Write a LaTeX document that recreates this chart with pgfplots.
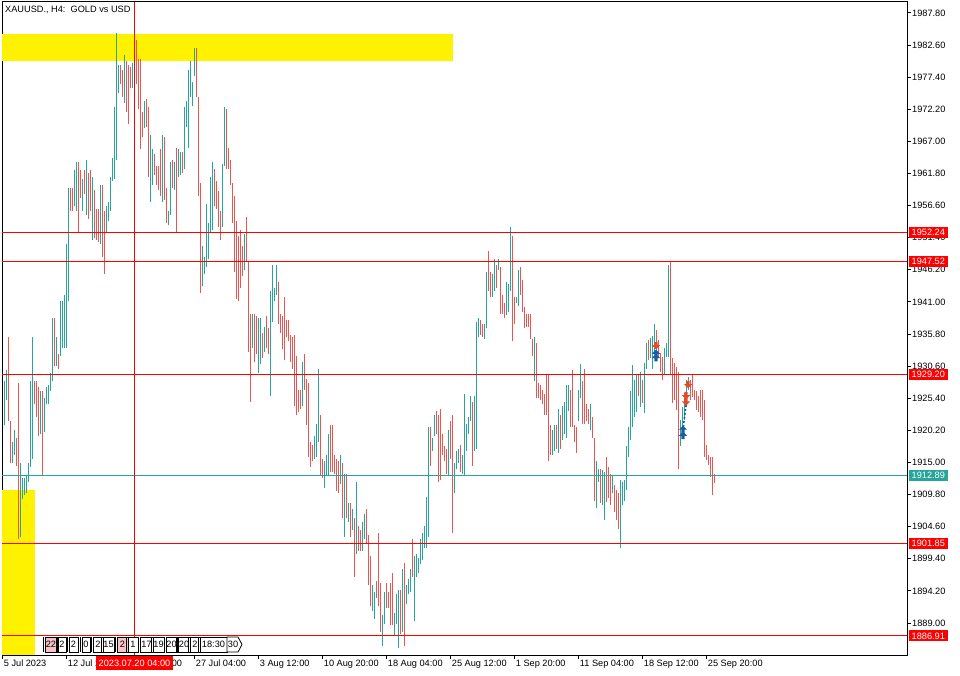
\documentclass[border=0pt]{standalone}
\usepackage{pgfplots}
\pgfplotsset{compat=1.18}
\usepackage{pgfplotstable}
\usepackage{fontspec}
\setmainfont{Liberation Sans}

\definecolor{upc}{RGB}{38,166,154}
\definecolor{dnc}{RGB}{239,83,80}
\definecolor{mtred}{RGB}{255,0,0}
\definecolor{arrred}{RGB}{232,72,40}
\definecolor{arrblue}{RGB}{24,92,170}
\definecolor{evpink}{RGB}{246,196,200}

\newcommand{\mtfont}{\fontsize{9.2pt}{10pt}\selectfont}

% buy / sell arrows
\pgfdeclareplotmark{arrup}{%
  \pgfpathmoveto{\pgfqpoint{0pt}{4.2pt}}
  \pgfpathlineto{\pgfqpoint{4.2pt}{0pt}}
  \pgfpathlineto{\pgfqpoint{1.6pt}{0pt}}
  \pgfpathlineto{\pgfqpoint{1.6pt}{-3.2pt}}
  \pgfpathlineto{\pgfqpoint{-1.6pt}{-3.2pt}}
  \pgfpathlineto{\pgfqpoint{-1.6pt}{0pt}}
  \pgfpathlineto{\pgfqpoint{-4.2pt}{0pt}}
  \pgfpathclose\pgfusepathqfill}
\pgfdeclareplotmark{arrdn}{%
  \pgfpathmoveto{\pgfqpoint{0pt}{-4.2pt}}
  \pgfpathlineto{\pgfqpoint{4.2pt}{0pt}}
  \pgfpathlineto{\pgfqpoint{1.6pt}{0pt}}
  \pgfpathlineto{\pgfqpoint{1.6pt}{3.2pt}}
  \pgfpathlineto{\pgfqpoint{-1.6pt}{3.2pt}}
  \pgfpathlineto{\pgfqpoint{-1.6pt}{0pt}}
  \pgfpathlineto{\pgfqpoint{-4.2pt}{0pt}}
  \pgfpathclose\pgfusepathqfill}

% H4 bars: index, low, high, up(1)/down(0)
\pgfplotstableread{
n lo hi c
0 1921.0 1928.2 1
1 1925.1 1929.9 1
2 1921.7 1935.3 0
3 1914.9 1921.7 0
4 1914.9 1918.3 1
5 1916.2 1920.3 1
6 1914.5 1918.9 0
7 1902.6 1927.8 0
8 1902.9 1914.9 1
9 1909.1 1912.5 1
10 1909.8 1912.5 1
11 1910.1 1912.8 1
12 1911.8 1914.9 1
13 1914.2 1928.2 1
14 1915.6 1935.3 1
15 1924.4 1928.2 0
16 1922.4 1928.2 0
17 1919.3 1927.2 0
18 1919.6 1926.5 1
19 1912.8 1926.5 0
20 1920.0 1925.4 1
21 1924.4 1927.2 1
22 1924.4 1927.5 1
23 1926.5 1929.5 1
24 1928.2 1938.4 1
25 1930.6 1938.4 0
26 1930.6 1935.3 1
27 1930.2 1932.6 0
28 1932.3 1941.1 1
29 1933.6 1941.1 1
30 1933.6 1942.2 1
31 1933.6 1950.3 1
32 1941.1 1959.5 1
33 1955.8 1959.5 0
34 1955.8 1959.5 0
35 1956.5 1962.3 1
36 1955.8 1963.6 1
37 1952.4 1963.6 0
38 1957.8 1962.3 0
39 1955.8 1960.9 1
40 1958.5 1962.3 0
41 1955.1 1964.0 1
42 1954.4 1961.9 0
43 1955.8 1962.3 0
44 1951.0 1961.2 1
45 1951.4 1959.2 0
46 1951.0 1956.1 0
47 1950.7 1956.1 0
48 1950.3 1959.9 1
49 1948.3 1959.9 0
50 1945.6 1955.8 0
51 1952.4 1956.5 1
52 1954.1 1957.2 1
53 1955.8 1961.2 1
54 1960.6 1964.3 1
55 1960.9 1972.5 1
56 1964.0 1984.6 1
57 1974.9 1979.3 1
58 1976.3 1979.3 0
59 1974.2 1978.6 0
60 1973.2 1981.0 1
61 1971.8 1980.0 0
62 1969.8 1979.3 0
63 1975.6 1979.0 0
64 1975.6 1979.7 1
65 1977.6 1984.8 0
66 1976.3 1983.4 0
67 1972.2 1980.3 0
68 1965.7 1980.3 0
69 1967.7 1971.8 0
70 1969.1 1973.5 1
71 1969.4 1973.9 0
72 1961.2 1972.5 0
73 1957.2 1968.1 1
74 1959.9 1965.7 1
75 1961.6 1965.0 0
76 1959.9 1963.0 0
77 1959.2 1963.0 0
78 1958.2 1965.7 0
79 1957.2 1968.1 1
80 1957.5 1967.7 0
81 1953.7 1959.5 0
82 1953.4 1955.8 1
83 1955.1 1963.6 1
84 1959.5 1964.0 0
85 1959.2 1963.6 1
86 1952.4 1966.0 0
87 1961.2 1965.7 1
88 1961.6 1965.3 1
89 1961.9 1965.3 0
90 1962.6 1972.5 1
91 1969.4 1973.5 1
92 1966.0 1978.6 1
93 1974.2 1980.0 1
94 1972.8 1976.6 1
95 1977.6 1982.1 1
96 1974.2 1982.1 0
97 1958.2 1974.2 0
98 1942.5 1960.2 0
99 1943.5 1950.0 1
100 1945.6 1948.3 1
101 1946.6 1956.8 1
102 1947.9 1953.7 1
103 1952.4 1961.2 1
104 1952.7 1963.6 1
105 1956.5 1962.6 0
106 1956.1 1960.6 0
107 1953.1 1958.9 0
108 1951.0 1955.8 0
109 1953.1 1963.3 1
110 1963.0 1972.5 1
111 1962.6 1972.2 0
112 1962.6 1966.0 0
113 1959.9 1964.0 0
114 1953.7 1960.2 0
115 1945.9 1958.2 0
116 1941.5 1954.1 0
117 1941.1 1951.7 0
118 1943.2 1952.7 0
119 1945.2 1950.0 0
120 1946.2 1952.0 1
121 1947.6 1954.8 0
122 1932.9 1947.6 0
123 1924.8 1939.1 0
124 1933.6 1939.1 1
125 1931.2 1939.1 0
126 1932.6 1938.8 0
127 1929.5 1938.4 1
128 1930.9 1938.4 1
129 1931.9 1936.0 0
130 1932.9 1937.0 1
131 1933.6 1938.8 0
132 1932.6 1936.7 0
133 1925.8 1942.8 1
134 1937.7 1946.9 1
135 1941.1 1943.2 1
136 1942.2 1946.9 1
137 1937.4 1944.2 0
138 1936.0 1939.1 0
139 1933.3 1938.8 0
140 1931.6 1941.8 0
141 1935.3 1938.1 0
142 1934.7 1938.1 0
143 1931.2 1935.7 0
144 1930.2 1935.3 0
145 1924.1 1935.7 0
146 1922.7 1932.3 0
147 1923.1 1926.8 0
148 1923.7 1926.8 0
149 1924.1 1931.2 1
150 1926.8 1932.6 0
151 1921.0 1928.5 0
152 1915.9 1927.8 0
153 1914.2 1918.3 0
154 1915.2 1917.9 0
155 1915.6 1919.3 1
156 1915.9 1921.3 1
157 1918.3 1930.2 1
158 1912.8 1922.7 0
159 1912.5 1915.6 0
160 1910.8 1915.2 1
161 1912.8 1916.2 1
162 1912.8 1919.6 1
163 1913.5 1921.0 0
164 1913.5 1921.0 0
165 1913.2 1916.2 0
166 1910.4 1915.6 0
167 1910.1 1915.2 0
168 1911.5 1916.2 1
169 1906.0 1914.9 0
170 1902.9 1913.2 1
171 1906.0 1913.2 0
172 1905.3 1908.4 1
173 1902.9 1908.4 0
174 1904.0 1907.4 1
175 1896.5 1906.0 0
176 1900.2 1911.8 1
177 1900.6 1904.7 0
178 1900.6 1904.0 0
179 1900.6 1905.3 1
180 1902.6 1906.7 1
181 1901.9 1907.4 0
182 1895.1 1903.3 0
183 1891.7 1899.9 0
184 1891.0 1895.1 1
185 1889.6 1894.1 1
186 1893.0 1895.8 0
187 1891.7 1903.6 0
188 1887.6 1895.4 0
189 1885.2 1890.3 1
190 1888.9 1894.1 1
191 1891.4 1895.4 0
192 1891.4 1894.1 0
193 1888.6 1895.4 0
194 1888.6 1897.1 0
195 1886.9 1890.7 1
196 1888.9 1893.7 1
197 1884.9 1894.4 1
198 1887.3 1894.4 0
199 1887.6 1897.8 1
200 1885.2 1898.8 0
201 1892.0 1895.1 1
202 1893.7 1896.1 1
203 1894.1 1897.8 1
204 1896.5 1902.6 0
205 1889.3 1899.9 1
206 1896.5 1900.2 1
207 1897.1 1899.5 1
208 1898.5 1902.6 1
209 1899.2 1903.6 1
210 1901.2 1904.7 1
211 1901.2 1909.4 1
212 1902.9 1920.7 1
213 1914.5 1920.7 0
214 1916.9 1918.9 1
215 1919.3 1922.7 1
216 1919.6 1923.4 0
217 1911.8 1922.7 0
218 1912.1 1923.7 0
219 1916.2 1919.6 0
220 1915.2 1917.6 0
221 1913.2 1917.2 0
222 1912.8 1920.3 1
223 1915.6 1921.7 0
224 1903.6 1922.7 0
225 1910.1 1914.9 1
226 1913.9 1916.9 1
227 1914.9 1917.2 1
228 1913.5 1917.9 0
229 1913.2 1916.2 1
230 1912.8 1926.1 1
231 1916.9 1921.3 1
232 1919.6 1922.4 1
233 1921.7 1925.8 1
234 1914.5 1924.8 0
235 1916.9 1925.8 1
236 1917.2 1937.7 1
237 1935.3 1938.4 1
238 1935.7 1938.1 0
239 1935.3 1937.4 0
240 1935.0 1937.4 1
241 1936.7 1945.9 1
242 1942.8 1949.3 0
243 1941.8 1945.9 0
244 1941.8 1945.6 1
245 1942.8 1947.9 1
246 1943.2 1946.9 0
247 1946.2 1947.9 1
248 1939.1 1946.6 0
249 1939.1 1942.2 0
250 1938.4 1940.8 0
251 1938.8 1944.2 1
252 1939.4 1943.9 1
253 1942.8 1953.1 1
254 1934.6 1951.7 0
255 1937.4 1941.8 0
256 1940.8 1941.8 1
257 1940.4 1946.2 1
258 1942.2 1946.6 0
259 1939.4 1944.5 0
260 1936.7 1940.1 0
261 1937.0 1939.1 0
262 1937.0 1939.1 0
263 1935.0 1939.1 0
264 1932.3 1935.0 0
265 1928.2 1935.3 1
266 1925.4 1934.3 0
267 1925.4 1927.8 0
268 1925.1 1927.5 0
269 1924.4 1926.8 0
270 1922.7 1926.1 0
271 1922.7 1929.2 0
272 1915.2 1929.2 0
273 1916.2 1921.0 0
274 1916.2 1920.3 1
275 1916.9 1921.0 1
276 1917.2 1921.0 0
277 1916.6 1923.7 1
278 1917.2 1922.7 0
279 1918.6 1924.1 1
280 1919.6 1924.8 1
281 1919.0 1927.5 1
282 1923.4 1927.5 1
283 1920.7 1926.8 0
284 1920.7 1929.9 0
285 1918.3 1921.0 0
286 1916.6 1920.7 0
287 1921.7 1926.8 1
288 1925.4 1930.9 1
289 1921.3 1928.2 0
290 1921.3 1930.2 0
291 1921.7 1924.4 0
292 1921.3 1923.7 0
293 1920.3 1924.4 1
294 1918.9 1922.4 0
295 1908.7 1918.9 0
296 1907.7 1915.2 1
297 1911.8 1913.9 1
298 1908.4 1914.0 0
299 1908.1 1913.8 1
300 1905.7 1913.5 1
301 1908.6 1915.9 0
302 1909.2 1914.3 0
303 1908.1 1913.2 0
304 1910.0 1913.0 1
305 1907.0 1911.4 0
306 1905.7 1910.5 0
307 1904.3 1910.0 0
308 1901.1 1912.2 1
309 1908.1 1911.9 1
310 1908.7 1912.2 1
311 1910.5 1917.6 1
312 1915.9 1920.8 1
313 1918.6 1926.5 1
314 1920.8 1930.8 1
315 1922.4 1928.4 1
316 1923.2 1929.4 1
317 1925.7 1929.4 0
318 1924.0 1929.7 1
319 1924.6 1928.4 0
320 1923.0 1931.1 1
321 1930.2 1934.3 1
322 1931.6 1934.8 0
323 1931.9 1935.1 1
324 1930.2 1935.4 1
325 1932.9 1937.5 1
326 1932.9 1936.5 0
327 1931.9 1934.8 0
328 1929.7 1932.7 0
329 1928.4 1932.1 0
330 1929.4 1933.5 1
331 1932.1 1934.3 1
332 1932.1 1947.0 1
333 1929.4 1947.5 0
334 1924.6 1931.9 0
335 1925.1 1931.1 0
336 1923.5 1930.5 0
337 1914.0 1929.7 0
338 1917.6 1921.9 1
339 1919.7 1924.0 1
340 1921.9 1926.2 1
341 1924.0 1928.4 1
342 1926.7 1928.9 1
343 1925.1 1928.4 0
344 1925.6 1929.2 0
345 1925.1 1926.7 0
346 1923.5 1926.5 0
347 1923.2 1925.7 0
348 1922.4 1926.7 0
349 1921.9 1926.7 0
350 1915.9 1925.1 0
351 1915.4 1917.8 0
352 1914.6 1916.2 0
353 1912.7 1915.9 0
354 1909.7 1915.9 0
355 1911.6 1913.2 0
}\bars

\begin{document}
\begin{tikzpicture}
\path[use as bounding box] (-2pt,-20pt) rectangle (958pt,655pt);
\begin{axis}[
  scale only axis, width=905pt, height=653pt,
  xmin=-1, xmax=451.5, ymin=1883.82, ymax=1989.57,
  clip=false,
  axis line style={line width=1pt, black},
  xtick pos=bottom, ytick pos=right, yticklabel pos=right,
  tick align=outside, major tick length=4pt,
  tick style={line width=1pt, black},
  tick label style={font=\mtfont},
  /pgf/number format/assume math mode=true,
  xtick={-0.65,31.35,63.35,95.35,127.35,159.35,191.35,223.35,255.35,287.35,319.35,351.35},
  xticklabels={5 Jul 2023,12 Jul 12:00,19 Jul 20:00,27 Jul 04:00,3 Aug 12:00,10 Aug 20:00,18 Aug 04:00,25 Aug 12:00,1 Sep 20:00,11 Sep 04:00,18 Sep 12:00,25 Sep 20:00},
  xticklabel style={anchor=north west, inner sep=0pt, xshift=1pt, yshift=-1pt},
  ytick={1889.0,1894.2,1899.4,1904.6,1909.8,1915.0,1920.2,1925.4,1930.6,1935.8,1941.0,1946.2,1951.4,1956.6,1961.8,1967.0,1972.2,1977.4,1982.6,1987.8},
  yticklabel style={anchor=west, inner sep=1pt,
    /pgf/number format/fixed, /pgf/number format/fixed zerofill,
    /pgf/number format/precision=2, /pgf/number format/1000 sep={}},
]
% zones
\addplot[fill=yellow, draw=none] coordinates {(-1,1980.0)(224.5,1980.0)(224.5,1984.4)(-1,1984.4)} -- cycle;
\addplot[fill=yellow, draw=none] coordinates {(-1,1883.82)(15.5,1883.82)(15.5,1910.5)(-1,1910.5)} -- cycle;

% bars
\addplot[upc, line width=1pt, quiver={u=0, v=\thisrow{hi}-\thisrow{lo}},
  restrict expr to domain={\thisrow{c}}{0.5:1.5}] table[x=n, y=lo] {\bars};
\addplot[dnc, line width=1pt, quiver={u=0, v=\thisrow{hi}-\thisrow{lo}},
  restrict expr to domain={\thisrow{c}}{-0.5:0.5}] table[x=n, y=lo] {\bars};

% levels
\addplot[mtred, line width=1pt] coordinates {(-1,1952.24)(451.5,1952.24)};
\addplot[mtred, line width=1pt] coordinates {(-1,1947.52)(451.5,1947.52)};
\addplot[mtred, line width=1pt] coordinates {(-1,1929.20)(451.5,1929.20)};
\addplot[upc, line width=1pt] coordinates {(-1,1912.89)(451.5,1912.89)};
\addplot[mtred, line width=1pt] coordinates {(-1,1901.85)(451.5,1901.85)};
\addplot[mtred, line width=1pt] coordinates {(-1,1886.91)(451.5,1886.91)};
% crosshair
\addplot[mtred, line width=1pt] coordinates {(65.15,1883.82)(65.15,1989.57)};

% trades
\addplot[arrblue, line width=1.6pt, dash pattern=on 2pt off 2pt] coordinates {(341,1924.3)(339.6,1920.6)};
\addplot[only marks, mark=arrdn, arrred] coordinates {(326,1934.0)(342,1927.7)(341,1925.9)(341,1924.9)};
\addplot[only marks, mark=arrup, arrblue] coordinates {(326,1932.6)(326,1931.9)(339.5,1920.3)(339.5,1919.3)};

% price labels
\tikzset{plab/.style={anchor=west, xshift=1.5pt, text=white, font=\mtfont, inner xsep=3pt, inner ysep=0pt, minimum height=11pt}}
\node[plab, fill=mtred] at (axis cs:451.5,1952.24) {1952.24};
\node[plab, fill=mtred] at (axis cs:451.5,1947.52) {1947.52};
\node[plab, fill=mtred] at (axis cs:451.5,1929.20) {1929.20};
\node[plab, fill=upc] at (axis cs:451.5,1912.89) {1912.89};
\node[plab, fill=mtred] at (axis cs:451.5,1901.85) {1901.85};
\node[plab, fill=mtred] at (axis cs:451.5,1886.91) {1886.91};
\end{axis}

% overlays in pixel coordinates of the terminal window
\begin{scope}[shift={(-2pt,655pt)}, x=1pt, y=-1pt]
  \node[anchor=west, font=\mtfont, inner sep=0pt] at (5,9.5) {XAUUSD., H4:\ \ GOLD vs USD};
  \foreach \a/\b/\t/\f in {45/57/22/evpink, 58/66/2/white, 69/78/2/white, 82/90/0/white,
      93/103/2/white, 103/114/15/white, 117/128/2/evpink, 128/138/1/white, 140/153/17/white,
      153/164/19/white, 166/177/20/white, 178/190/20/white, 190/200/2/white, 200/227/18:30/white} {
    \draw[fill=\f, line width=0.8pt] (\a-2,637) -- (\a-2,652);
    \draw[fill=\f, line width=0.8pt] (\a,637) rectangle (\b,652);
    \node[font=\mtfont, inner sep=0pt] at ({(\a+\b)/2},644.5) {\t};
  }
  \draw[fill=white, line width=0.8pt] (227,637) -- (238,637) -- (242,644.5) -- (238,652) -- (227,652) -- cycle;
  \node[font=\mtfont, inner sep=0pt] at (233,644.5) {30};
  \fill[mtred] (96,656) rectangle (173,670);
  \node[text=white, font=\mtfont, inner sep=0pt] at (134.5,663) {2023.07.20 04:00};
\end{scope}
\end{tikzpicture}
\end{document}
